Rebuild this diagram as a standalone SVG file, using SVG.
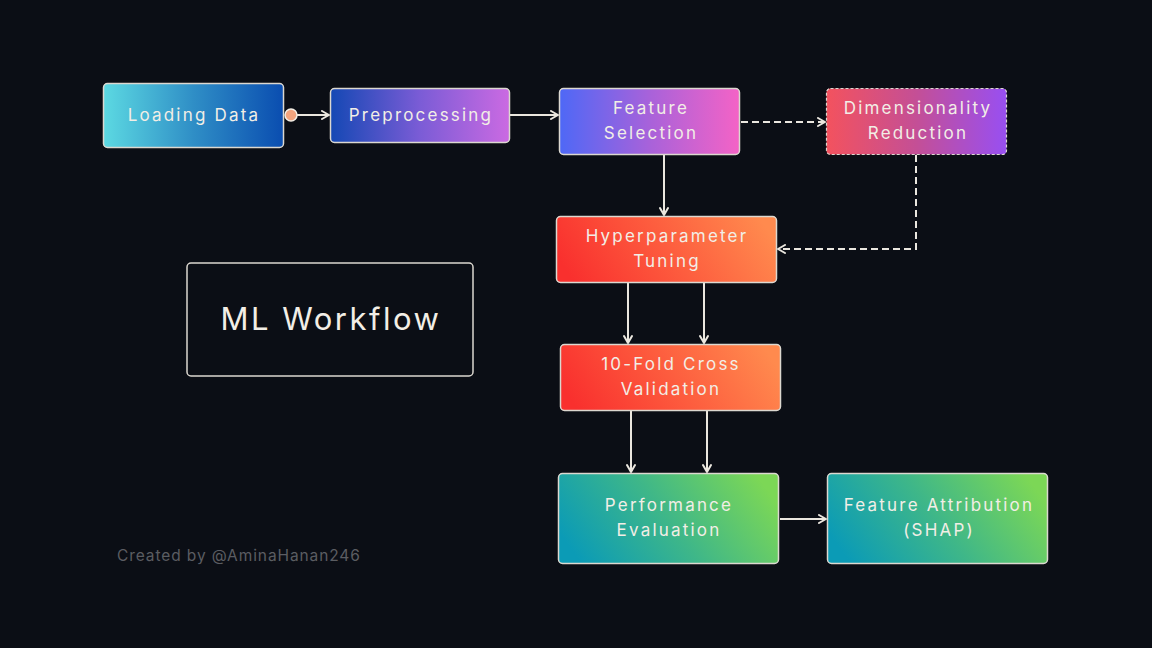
<svg xmlns="http://www.w3.org/2000/svg" width="1152" height="648" viewBox="0 0 1152 648">
<defs>
<linearGradient id="gLoad" x1="0" y1="0" x2="1" y2="0"><stop offset="0" stop-color="#5cd9e2"/><stop offset="0.5" stop-color="#2f8ec6"/><stop offset="1" stop-color="#0a4db0"/></linearGradient>
<linearGradient id="gPre" x1="0" y1="0" x2="1" y2="0"><stop offset="0" stop-color="#1448b4"/><stop offset="0.5" stop-color="#7b5cd6"/><stop offset="1" stop-color="#cb6ae2"/></linearGradient>
<linearGradient id="gFS" x1="0" y1="0" x2="1" y2="0"><stop offset="0" stop-color="#4e68f6"/><stop offset="0.5" stop-color="#a862da"/><stop offset="1" stop-color="#f463c6"/></linearGradient>
<linearGradient id="gDim" x1="0" y1="0" x2="1" y2="0"><stop offset="0" stop-color="#f3525e"/><stop offset="0.5" stop-color="#c44f96"/><stop offset="1" stop-color="#984ff2"/></linearGradient>
<linearGradient id="gRed" x1="0" y1="0.6" x2="1" y2="0.4"><stop offset="0" stop-color="#f9302e"/><stop offset="0.5" stop-color="#fd5c3e"/><stop offset="1" stop-color="#ff8a4e"/></linearGradient>
<linearGradient id="gGreen" x1="0" y1="0.65" x2="1" y2="0.35"><stop offset="0" stop-color="#0b9bb6"/><stop offset="0.5" stop-color="#3fb788"/><stop offset="1" stop-color="#7cd756"/></linearGradient>
<marker id="arr" viewBox="0 0 10 10" refX="9" refY="5" markerWidth="10" markerHeight="10" markerUnits="userSpaceOnUse" orient="auto">
<path d="M2,1 L9,5 L2,9" fill="none" stroke="#ebe7df" stroke-width="2" stroke-linejoin="round" stroke-linecap="round"/>
</marker>
<style>
.node{stroke:#dcd8d0;stroke-width:1.5}
.lbl{font-family:Inter,"Noto Sans","Liberation Sans",sans-serif;font-size:17px;font-weight:400;fill:#f2eee6;text-anchor:middle;letter-spacing:2.2px}
.con{fill:none;stroke:#ebe7df;stroke-width:2}
.dash{stroke-dasharray:7,4}
</style>
</defs>
<rect width="1152" height="648" fill="#0b0e15"/>

<g id="connectors">
<circle cx="291" cy="115" r="6" fill="#f2a47e" stroke="#f4efe6" stroke-width="1.5"/>
<line class="con" x1="297" y1="115" x2="329" y2="115" marker-end="url(#arr)"/>
<line class="con" x1="510" y1="115" x2="558" y2="115" marker-end="url(#arr)"/>
<line class="con dash" x1="741" y1="122" x2="825" y2="122" marker-end="url(#arr)"/>
<line class="con" x1="664" y1="155" x2="664" y2="215" marker-end="url(#arr)"/>
<polyline class="con dash" points="916,155 916,249 778,249" marker-end="url(#arr)"/>
<line class="con" x1="628" y1="283" x2="628" y2="343" marker-end="url(#arr)"/>
<line class="con" x1="704" y1="283" x2="704" y2="343" marker-end="url(#arr)"/>
<line class="con" x1="631" y1="411" x2="631" y2="472" marker-end="url(#arr)"/>
<line class="con" x1="707" y1="411" x2="707" y2="472" marker-end="url(#arr)"/>
<line class="con" x1="780" y1="519" x2="826" y2="519" marker-end="url(#arr)"/>
</g>

<g id="loading">
<rect class="node" x="103.5" y="83.5" width="180" height="64" rx="4" fill="url(#gLoad)"/>
<text class="lbl" x="194" y="121">Loading Data</text>
</g>
<g id="preprocessing">
<rect class="node" x="330.5" y="88.5" width="179" height="54" rx="4" fill="url(#gPre)"/>
<text class="lbl" x="421" y="121">Preprocessing</text>
</g>
<g id="featsel">
<rect class="node" x="559.5" y="88.5" width="180" height="66" rx="4" fill="url(#gFS)"/>
<text class="lbl" x="651" y="114">Feature</text>
<text class="lbl" x="651" y="139">Selection</text>
</g>
<g id="dimred">
<rect class="node dash" x="826.5" y="88.5" width="180" height="66" rx="4" fill="url(#gDim)" style="stroke-dasharray:3,2;stroke-width:1.2"/>
<text class="lbl" x="918" y="114">Dimensionality</text>
<text class="lbl" x="918" y="139">Reduction</text>
</g>
<g id="hyper">
<rect class="node" x="556.5" y="216.5" width="220" height="66" rx="4" fill="url(#gRed)"/>
<text class="lbl" x="667" y="242">Hyperparameter</text>
<text class="lbl" x="667" y="267">Tuning</text>
</g>
<g id="cv">
<rect class="node" x="560.5" y="344.5" width="220" height="66" rx="4" fill="url(#gRed)"/>
<text class="lbl" x="671" y="370">10-Fold Cross</text>
<text class="lbl" x="671" y="395">Validation</text>
</g>
<g id="perf">
<rect class="node" x="558.5" y="473.5" width="220" height="90" rx="4" fill="url(#gGreen)"/>
<text class="lbl" x="669" y="511">Performance</text>
<text class="lbl" x="669" y="536">Evaluation</text>
</g>
<g id="shap">
<rect class="node" x="827.5" y="473.5" width="220" height="90" rx="4" fill="url(#gGreen)"/>
<text class="lbl" x="939" y="511">Feature Attribution</text>
<text class="lbl" x="939" y="536">(SHAP)</text>
</g>
<g id="title">
<rect x="187" y="263" width="286" height="113" rx="4" fill="none" stroke="#dcd8d0" stroke-width="1.5"/>
<text x="331" y="330" font-family="Inter,'Noto Sans','Liberation Sans',sans-serif" font-size="31" font-weight="400" fill="#f2eee6" text-anchor="middle" letter-spacing="2.5">ML Workflow</text>
</g>
<text x="117" y="561" font-family="Inter,'Noto Sans','Liberation Sans',sans-serif" font-size="15.5" fill="#5b5d62" letter-spacing="0.9">Created by @AminaHanan246</text>
</svg>
